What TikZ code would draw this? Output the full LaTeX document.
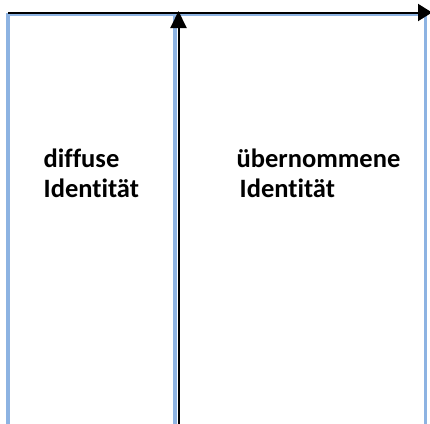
\documentclass[tikz,border=0pt]{standalone}
\usepackage{fontspec}
\setmainfont[Ligatures=NoCommon]{Carlito}
\usetikzlibrary{arrows.meta}
\definecolor{panelblue}{RGB}{141,179,226}
\tikzset{
  panel/.style={draw=panelblue, line width=3.5pt},
  axis/.style={draw=black, line width=2pt},
  label/.style={inner sep=0pt, align=left, anchor=north west,
    font=\bfseries\fontsize{26.5}{30}\selectfont, text=black},
}
\begin{document}
\begin{tikzpicture}[x=1pt, y=-1pt]
  \useasboundingbox (0,0) rectangle (430,423);
  \clip (0,0) rectangle (430,423);
  % two open-bottom panels
  \draw[panel] (8,440) -- (8,14.5) -- (175,14.5) -- (175,440);
  \draw[panel] (175,14.5) -- (425.5,14.5) -- (425.5,440);
  % axes
  \coordinate (xstart) at (8,12.5);
  \coordinate (xend) at (432,12.5);
  \coordinate (ystart) at (178.5,440);
  \coordinate (yend) at (178.5,11);
  \draw[axis, -{Triangle[length=14pt,width=17pt]}] (xstart) -- (xend);
  \draw[axis, -{Triangle[length=17pt,width=16pt]}] (ystart) -- (yend);
  % labels
  \node[label] (diffuse) at (43.5,149) {diffuse\\Identität};
  \node[label] (uebernommen) at (236.5,149) {übernommene\\\hspace*{3pt}Identität};
\end{tikzpicture}
\end{document}
